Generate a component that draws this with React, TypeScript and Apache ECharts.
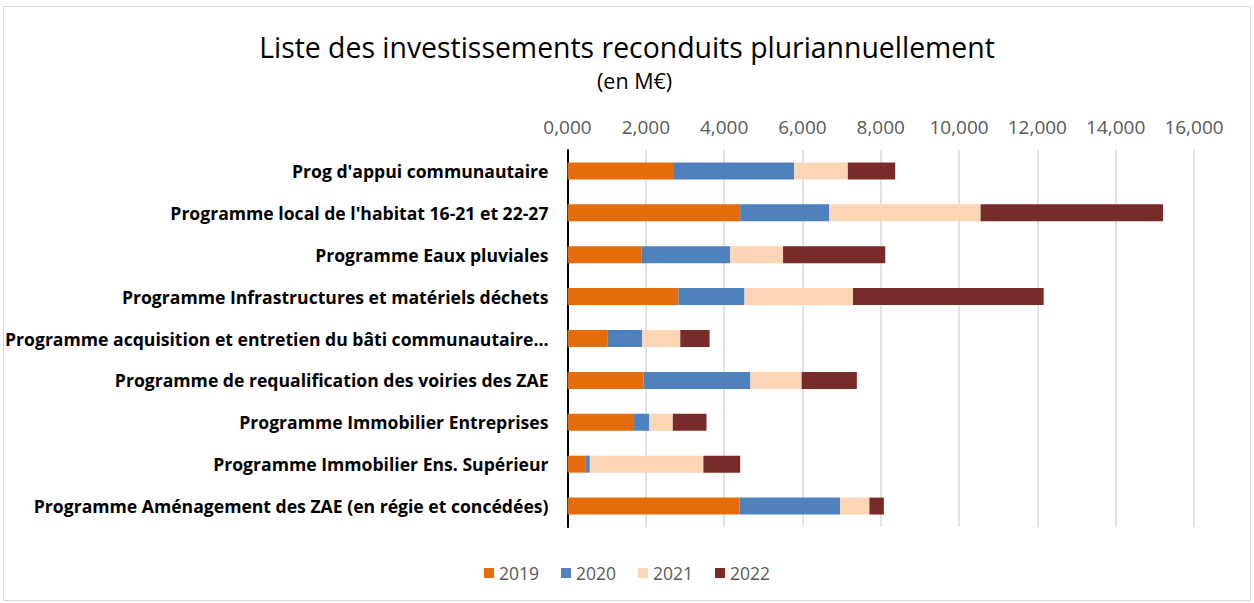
import React, { useEffect, useRef } from "react";
import * as echarts from "echarts";

const categories = [
  "Prog d'appui communautaire",
  "Programme local de l'habitat 16-21 et 22-27",
  "Programme Eaux pluviales",
  "Programme Infrastructures et matériels déchets",
  "Programme acquisition et entretien du bâti communautaire...",
  "Programme de requalification des voiries des ZAE",
  "Programme Immobilier Entreprises",
  "Programme Immobilier Ens. Supérieur",
  "Programme Aménagement des ZAE (en régie et concédées)",
];

const seriesNames = ["2019", "2020", "2021", "2022"];
const values2019 = [2.72, 4.41, 1.885, 2.83, 1.03, 1.94, 1.7, 0.47, 4.39];
const values2020 = [3.07, 2.27, 2.27, 1.69, 0.88, 2.73, 0.39, 0.1, 2.57];
const values2021 = [1.37, 3.87, 1.35, 2.77, 0.97, 1.31, 0.6, 2.9, 0.75];
const values2022 = [1.21, 4.66, 2.61, 4.87, 0.75, 1.41, 0.86, 0.94, 0.37];
const colors = ["#E46C0A", "#4F81BD", "#FCD5B5", "#782C2A"];

const FONT = "'Open Sans', sans-serif";

export default function App() {
  const ref = useRef<HTMLDivElement>(null);
  useEffect(() => {
    if (!ref.current) return;
    const chart = echarts.init(ref.current, undefined, { renderer: "svg" });
    const data = [values2019, values2020, values2021, values2022];
    chart.setOption({
      animation: false,
      backgroundColor: "#ffffff",
      textStyle: { fontFamily: FONT },
      title: [
        {
          text: "Liste des investissements reconduits pluriannuellement",
          left: "center",
          top: 28,
          textStyle: { fontFamily: FONT, fontSize: 28.4, fontWeight: "normal", color: "#000" },
        },
        {
          text: "(en M€)",
          left: 592,
          top: 64,
          textStyle: { fontFamily: FONT, fontSize: 21.5, fontWeight: "normal", color: "#000" },
        },
      ],
      graphic: [
        {
          type: "rect",
          shape: { x: 3.5, y: 6.5, width: 1247, height: 594 },
          style: { fill: "none", stroke: "#d9d9d9", lineWidth: 1 },
          silent: true,
        },
      ],
      legend: {
        bottom: 16,
        left: "center",
        itemWidth: 10,
        itemHeight: 10,
        itemGap: 22,
        icon: "rect",
        textStyle: { fontFamily: FONT, fontSize: 17.5, color: "#595959" },
        data: seriesNames,
      },
      grid: {
        left: 567.5,
        right: 60,
        top: 150,
        bottom: 76,
        containLabel: false,
        outerBoundsMode: "none",
      },
      xAxis: {
        type: "value",
        position: "top",
        min: 0,
        max: 16,
        interval: 2,
        axisLine: { show: false },
        axisTick: { show: false },
        axisLabel: {
          margin: 14,
          fontFamily: FONT,
          fontSize: 19,
          color: "#595959",
          formatter: (v: number) => v.toFixed(3).replace(".", ","),
        },
        splitLine: { show: true, lineStyle: { color: "#d9d9d9", width: 1.5 } },
      },
      yAxis: {
        type: "category",
        inverse: true,
        data: categories,
        axisLine: { show: true, lineStyle: { color: "#000", width: 2 } },
        axisTick: { show: false },
        axisLabel: {
          margin: 19,
          fontFamily: FONT,
          fontSize: 17.6,
          fontWeight: "bold",
          color: "#000",
        },
      },
      series: seriesNames.map((name, i) => ({
        name,
        type: "bar",
        stack: "total",
        barWidth: 17,
        data: data[i],
        itemStyle: { color: colors[i] },
      })),
    });
    return () => chart.dispose();
  }, []);
  return (
    <div
      ref={ref}
      style={{ position: "fixed", left: 0, top: 0, width: 1254, height: 603 }}
    />
  );
}
